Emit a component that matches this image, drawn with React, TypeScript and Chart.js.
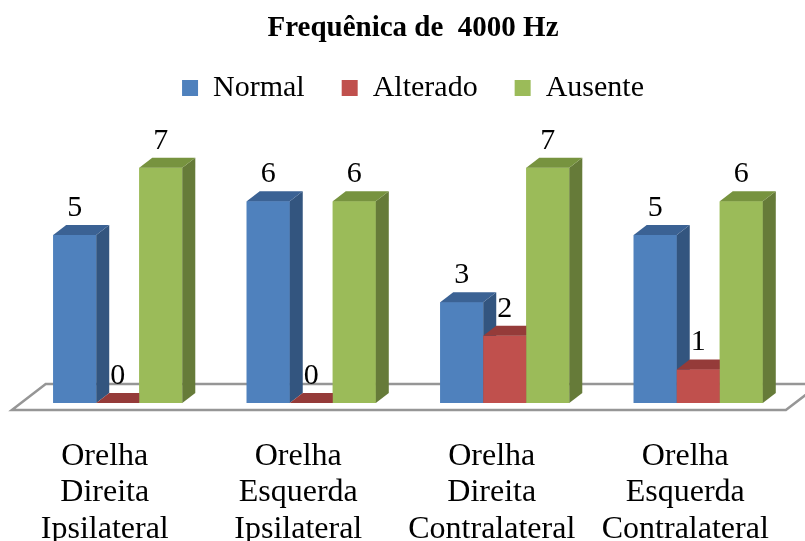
import React, { useEffect, useRef } from 'react';
import { Chart, registerables } from 'chart.js';

Chart.register(...registerables);

const categories: string[][] = [
  ['Orelha', 'Direita', 'Ipsilateral'],
  ['Orelha', 'Esquerda', 'Ipsilateral'],
  ['Orelha', 'Direita', 'Contralateral'],
  ['Orelha', 'Esquerda', 'Contralateral'],
];
const seriesNames = ['Normal', 'Alterado', 'Ausente'];
const normal = [5, 6, 3, 5];
const alterado = [0, 0, 2, 1];
const ausente = [7, 6, 7, 6];
const titleText = 'Frequênica de  4000 Hz';

const frontColors = ['#4F81BD', '#C0504D', '#9BBB59'];
const sideColors = ['#33557F', '#8A3836', '#667B39'];
const topColors = ['#3B6294', '#953B39', '#77933F'];

const SERIF = '"Liberation Serif", "Times New Roman", serif';
const DX = 13;
const DY = 10;

const bar3d = {
  id: 'bar3d',
  beforeDatasetsDraw(chart: any) {
    const { ctx, chartArea } = chart;
    const { left, right, bottom } = chartArea;
    const fx = -9.1, fy = 7, bx = 24.7, by = -19;
    ctx.save();
    ctx.beginPath();
    ctx.moveTo(left + fx, bottom + fy);
    ctx.lineTo(right + fx, bottom + fy);
    ctx.lineTo(right + bx, bottom + by);
    ctx.lineTo(left + bx, bottom + by);
    ctx.closePath();
    ctx.fillStyle = '#ffffff';
    ctx.fill();
    ctx.strokeStyle = '#969696';
    ctx.lineWidth = 2.5;
    ctx.stroke();
    ctx.restore();
  },
  afterDatasetsDraw(chart: any) {
    const { ctx } = chart;
    const metas = chart.data.datasets.map((_: any, i: number) => chart.getDatasetMeta(i));
    const n = chart.data.labels.length;
    ctx.save();
    for (let j = 0; j < n; j++) {
      for (let i = 0; i < metas.length; i++) {
        const el = metas[i].data[j];
        const { x, y, base, width } = el.getProps(['x', 'y', 'base', 'width'], true);
        const l = x - width / 2;
        const r = x + width / 2;
        ctx.fillStyle = frontColors[i];
        ctx.fillRect(l, y, width, base - y);
        ctx.fillStyle = sideColors[i];
        ctx.beginPath();
        ctx.moveTo(r, y);
        ctx.lineTo(r + DX, y - DY);
        ctx.lineTo(r + DX, base - DY);
        ctx.lineTo(r, base);
        ctx.closePath();
        ctx.fill();
        ctx.fillStyle = topColors[i];
        ctx.beginPath();
        ctx.moveTo(l, y);
        ctx.lineTo(r, y);
        ctx.lineTo(r + DX, y - DY);
        ctx.lineTo(l + DX, y - DY);
        ctx.closePath();
        ctx.fill();
      }
    }
    ctx.fillStyle = '#000';
    ctx.font = `30px ${SERIF}`;
    ctx.textAlign = 'center';
    ctx.textBaseline = 'alphabetic';
    for (let i = 0; i < metas.length; i++) {
      const values = chart.data.datasets[i].data;
      metas[i].data.forEach((el: any, j: number) => {
        const { x, y } = el.getProps(['x', 'y'], true);
        ctx.fillText(String(values[j]), x, y - DY - 9);
      });
    }
    ctx.restore();
  },
};

export default function App() {
  const ref = useRef<HTMLCanvasElement | null>(null);
  useEffect(() => {
    document.body.style.margin = '0';
    const canvas = ref.current;
    if (!canvas) return;
    const chart = new Chart(canvas, {
      type: 'bar',
      data: {
        labels: categories,
        datasets: [
          { label: seriesNames[0], data: normal, backgroundColor: frontColors[0], borderWidth: 0 },
          { label: seriesNames[1], data: alterado, backgroundColor: frontColors[1], borderWidth: 0 },
          { label: seriesNames[2], data: ausente, backgroundColor: frontColors[2], borderWidth: 0 },
        ],
      },
      options: {
        animation: false,
        responsive: false,
        events: [],
        layout: { padding: { left: 21, right: 0, top: 0, bottom: 0 } },
        datasets: { bar: { categoryPercentage: 0.667, barPercentage: 1 } },
        plugins: {
          title: {
            display: true,
            text: titleText,
            color: '#000',
            font: { family: SERIF, size: 29, weight: 'bold', lineHeight: 0.62 },
            padding: { top: 20, bottom: -2 },
          },
          legend: {
            display: true,
            position: 'top',
            labels: {
              boxWidth: 16,
              boxHeight: 16,
              padding: 37,
              color: '#000',
              font: { family: SERIF, size: 30 },
            },
          },
          tooltip: { enabled: false },
        },
        scales: {
          x: {
            grid: { display: false, drawTicks: false },
            border: { display: false },
            ticks: {
              color: '#000',
              font: { family: SERIF, size: 32, lineHeight: 1.14 },
              padding: 35,
              labelOffset: -13,
              maxRotation: 0,
              autoSkip: false,
            },
            afterFit: (s: any) => {
              s.height = 138;
              s.paddingLeft = 0;
              s.paddingRight = 0;
            },
          },
          y: {
            position: 'right',
            min: 0,
            max: 8.63,
            grid: { display: false, drawTicks: false },
            border: { display: false },
            ticks: { display: false },
            afterFit: (s: any) => { s.width = 10; },
          },
        },
      },
      plugins: [bar3d],
    });
    return () => chart.destroy();
  }, []);
  return <canvas ref={ref} width={805} height={541} style={{ display: 'block' }} />;
}
